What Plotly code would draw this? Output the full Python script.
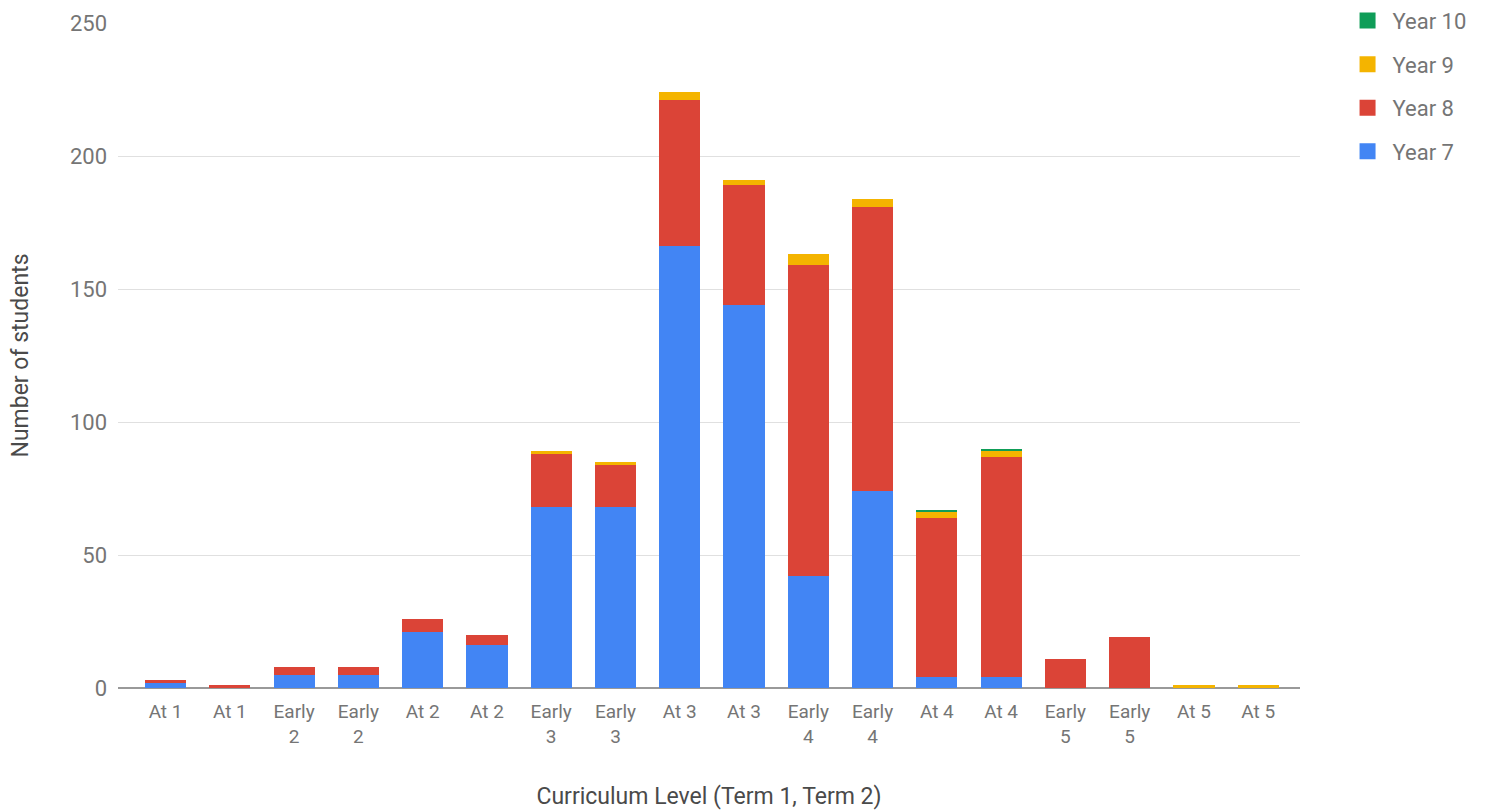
import plotly.graph_objects as go

# Curriculum level categories (Term 1, Term 2 pairs)
levels = ["At 1", "At 1", "Early<br>2", "Early<br>2", "At 2", "At 2",
          "Early<br>3", "Early<br>3", "At 3", "At 3", "Early<br>4", "Early<br>4",
          "At 4", "At 4", "Early<br>5", "Early<br>5", "At 5", "At 5"]

year7 = [2, 0, 5, 5, 21, 16, 68, 68, 166, 144, 42, 74, 4, 4, 0, 0, 0, 0]
year8 = [1, 1, 3, 3, 5, 4, 20, 16, 55, 45, 117, 107, 60, 83, 11, 19, 0, 0]
year9 = [0, 0, 0, 0, 0, 0, 1, 1, 3, 2, 4, 3, 2, 2, 0, 0, 1, 1]
year10 = [0, 0, 0, 0, 0, 0, 0, 0, 0, 0, 0, 0, 1, 1, 0, 0, 0, 0]

y_ticks = [0, 50, 100, 150, 200, 250]

series = [
    ("Year 7", year7, "#4285f4"),
    ("Year 8", year8, "#db4437"),
    ("Year 9", year9, "#f4b400"),
    ("Year 10", year10, "#0f9d58"),
]

positions = list(range(len(levels)))
font_family = "Roboto, Arial, sans-serif"
grey_text = "#757575"

fig = go.Figure()
for name, values, color in series:
    fig.add_trace(go.Bar(
        x=positions, y=values, name=name,
        marker=dict(color=color, line=dict(width=0)),
        showlegend=False,
    ))

# Square legend swatches, highest year first, one group each for even spacing
for name, values, color in reversed(series):
    fig.add_trace(go.Scatter(
        x=[None], y=[None], mode="markers", name=name,
        marker=dict(symbol="square", size=23, color=color),
        legendgroup=name, showlegend=True,
    ))

fig.update_layout(
    barmode="stack",
    bargap=0.36,
    width=1490, height=810,
    margin=dict(l=118, r=190, t=23, b=122, autoexpand=False),
    paper_bgcolor="white", plot_bgcolor="white",
    font=dict(family=font_family, size=18, color=grey_text),
    legend=dict(
        x=1.036, y=1.035, xanchor="left", yanchor="top",
        traceorder="grouped", tracegroupgap=12,
        font=dict(size=22, color=grey_text),
        itemwidth=40,
    ),
    xaxis=dict(
        range=[-0.74, 17.65],
        tickmode="array", tickvals=positions, ticktext=levels,
        ticks="", showgrid=False, zeroline=False,
        showline=False,
        ticklabelstandoff=10,
        tickfont=dict(size=19, color=grey_text),
        title=dict(text="Curriculum Level (Term 1, Term 2)", standoff=44,
                   font=dict(size=23, color="#4a4a4a")),
    ),
    yaxis=dict(
        range=[0, 250],
        tickmode="array", tickvals=y_ticks,
        ticks="", showgrid=True, gridcolor="#e0e0e0", gridwidth=1,
        zeroline=True, zerolinecolor="#999999", zerolinewidth=2,
        ticklabelstandoff=10,
        tickfont=dict(size=22, color=grey_text),
        title=dict(text="Number of students", standoff=34,
                   font=dict(size=23, color="#4a4a4a")),
    ),
)

fig.write_html("out.html")
